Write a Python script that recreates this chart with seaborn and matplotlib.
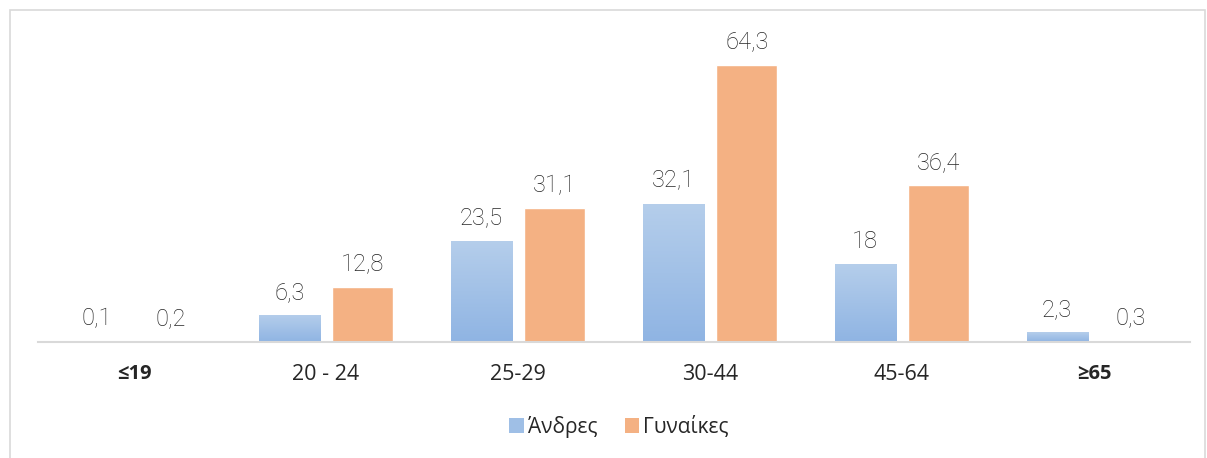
import numpy as np
import pandas as pd
import matplotlib
matplotlib.use("Agg")
import matplotlib.pyplot as plt
import seaborn as sns
from matplotlib.patches import Rectangle, Patch
from matplotlib.colors import LinearSegmentedColormap

# Data
age_groups = ["≤19", "20 - 24", "25-29", "30-44", "45-64", "≥65"]
men = [0.1, 6.3, 23.5, 32.1, 18, 2.3]
women = [0.2, 12.8, 31.1, 64.3, 36.4, 0.3]
series_names = ["Άνδρες", "Γυναίκες"]

df = pd.DataFrame({
    "group": age_groups * 2,
    "value": men + women,
    "sex": [series_names[0]] * len(men) + [series_names[1]] * len(women),
})

sns.set_style("white")
plt.rcParams["font.family"] = ["Open Sans", "DejaVu Sans"]

blue = "#9FBFE6"
orange = "#F4B183"

fig = plt.figure(figsize=(12.07, 4.58), dpi=100)
ax = fig.add_axes([38 / 1207, 116 / 458, 1152 / 1207, 302 / 458])

sns.barplot(data=df, x="group", y="value", hue="sex", order=age_groups,
            hue_order=series_names, palette=[blue, orange],
            width=0.766, gap=0.17, ax=ax, legend=False, saturation=1)

# gradient fill for the men's bars
cmap = LinearSegmentedColormap.from_list("bl", ["#8FB4E3", "#B5CEEB"])
grad = np.linspace(0, 1, 256).reshape(-1, 1)
for bar in ax.containers[0]:
    x0, y0 = bar.get_x(), bar.get_y()
    w, h = bar.get_width(), bar.get_height()
    im = ax.imshow(grad, cmap=cmap, origin="lower", aspect="auto",
                   extent=[x0, x0 + w, y0, y0 + h], zorder=bar.get_zorder())
    im.set_clip_path(bar)
ax.set_xlim(-0.5, 5.5)
ax.set_ylim(0, 70)

def fmt(v):
    if float(v).is_integer():
        return str(int(v))
    return f"{v:.1f}".replace(".", ",")

for cont in ax.containers:
    ax.bar_label(cont, labels=[fmt(v) for v in cont.datavalues], padding=8,
                 fontsize=17, color="#262626", fontweight="light",
                 family=["Roboto", "DejaVu Sans"])

for s in ["top", "right", "left"]:
    ax.spines[s].set_visible(False)
ax.spines["bottom"].set_color("#D9D9D9")
ax.spines["bottom"].set_linewidth(1.5)
ax.set_yticks([])
ax.set_xlabel("")
ax.set_ylabel("")
ax.tick_params(axis="x", length=0, pad=16, labelsize=15.5, labelcolor="#262626")
for lbl in ax.get_xticklabels():
    if lbl.get_text() in ("≤19", "≥65"):
        lbl.set_fontweight("bold")
        lbl.set_fontsize(14.5)

handles = [Patch(facecolor=blue, edgecolor="none"),
           Patch(facecolor=orange, edgecolor="none")]
fig.legend(handles, series_names, loc="center", bbox_to_anchor=(619 / 1207, 1 - 427 / 458),
           ncol=2, frameon=False, fontsize=15, handlelength=0.7, handleheight=0.7,
           handletextpad=0.2, columnspacing=1.3, labelcolor="#262626")

# outer border
fig.patches.append(Rectangle((10 / 1207, -0.1), 1195 / 1207, 1.1 - 10 / 458,
                             transform=fig.transFigure, fill=False,
                             edgecolor="#D9D9D9", linewidth=1.2))

fig.savefig("out.png", dpi=100)
